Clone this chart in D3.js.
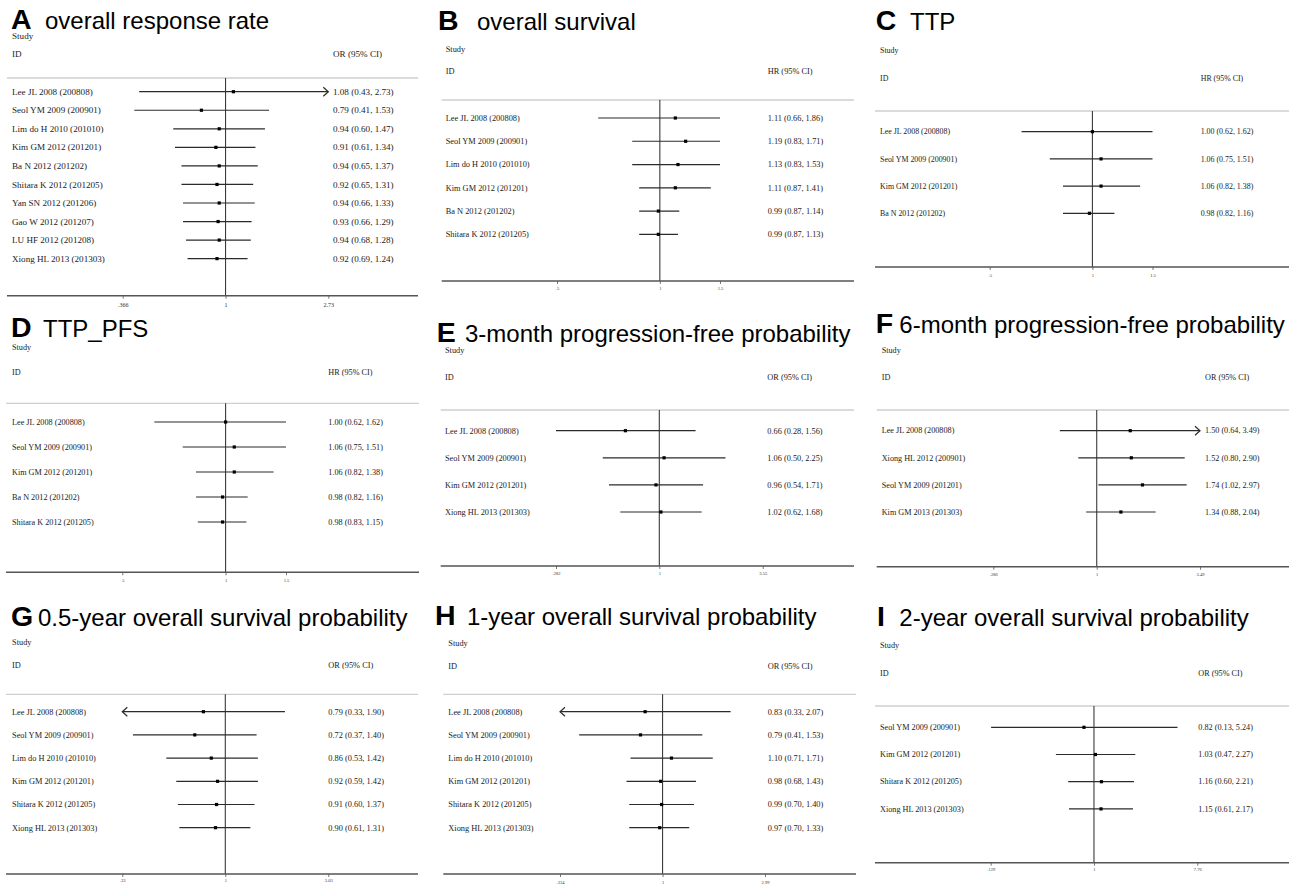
<!DOCTYPE html>
<html>
<head>
<meta charset="utf-8">
<script src="https://cdn.jsdelivr.net/npm/d3@7/dist/d3.min.js"></script>
<style>
  html, body { margin: 0; padding: 0; background: #fff; }
  svg { display: block; }
  .letter { font-family: "Liberation Sans", Arial, sans-serif; font-weight: bold; fill: #000; }
  .title { font-family: "Liberation Sans", Arial, sans-serif; fill: #000; }
  .serif { font-family: "Liberation Serif", "Times New Roman", serif; fill: #222; }
</style>
</head>
<body>
<svg id="fig" width="1289" height="885"></svg>
<script>
// ---- A: overall response rate ----
const studiesA = ["Lee JL 2008 (200808)", "Seol YM 2009 (200901)", "Lim do H 2010 (201010)", "Kim GM 2012 (201201)", "Ba N 2012 (201202)", "Shitara K 2012 (201205)", "Yan SN 2012 (201206)", "Gao W 2012 (201207)", "LU HF 2012 (201208)", "Xiong HL 2013 (201303)"];
const estA = [1.08, 0.79, 0.94, 0.91, 0.94, 0.92, 0.94, 0.93, 0.94, 0.92];
const lowA = [0.43, 0.41, 0.60, 0.61, 0.65, 0.65, 0.66, 0.66, 0.68, 0.69];
const highA = [2.73, 1.53, 1.47, 1.34, 1.37, 1.31, 1.33, 1.29, 1.28, 1.24];
const ticksA = [0.366, 1, 2.73];
const tickTextA = [".366", "1", "2.73"];
const arrowsA = ["right", "", "", "", "", "", "", "", "", ""];

// ---- B: overall survival ----
const studiesB = ["Lee JL 2008 (200808)", "Seol YM 2009 (200901)", "Lim do H 2010 (201010)", "Kim GM 2012 (201201)", "Ba N 2012 (201202)", "Shitara K 2012 (201205)"];
const estB = [1.11, 1.19, 1.13, 1.11, 0.99, 0.99];
const lowB = [0.66, 0.83, 0.83, 0.87, 0.87, 0.87];
const highB = [1.86, 1.71, 1.53, 1.41, 1.14, 1.13];
const ticksB = [0.5, 1, 1.5];
const tickTextB = [".5", "1", "1.5"];
const arrowsB = ["", "", "", "", "", ""];

// ---- C: TTP ----
const studiesC = ["Lee JL 2008 (200808)", "Seol YM 2009 (200901)", "Kim GM 2012 (201201)", "Ba N 2012 (201202)"];
const estC = [1.00, 1.06, 1.06, 0.98];
const lowC = [0.62, 0.75, 0.82, 0.82];
const highC = [1.62, 1.51, 1.38, 1.16];
const ticksC = [0.5, 1, 1.5];
const tickTextC = [".5", "1", "1.5"];
const arrowsC = ["", "", "", ""];

// ---- D: TTP_PFS ----
const studiesD = ["Lee JL 2008 (200808)", "Seol YM 2009 (200901)", "Kim GM 2012 (201201)", "Ba N 2012 (201202)", "Shitara K 2012 (201205)"];
const estD = [1.00, 1.06, 1.06, 0.98, 0.98];
const lowD = [0.62, 0.75, 0.82, 0.82, 0.83];
const highD = [1.62, 1.51, 1.38, 1.16, 1.15];
const ticksD = [0.5, 1, 1.5];
const tickTextD = [".5", "1", "1.5"];
const arrowsD = ["", "", "", "", ""];

// ---- E: 3-month progression-free probability ----
const studiesE = ["Lee JL 2008 (200808)", "Seol YM 2009 (200901)", "Kim GM 2012 (201201)", "Xiong HL 2013 (201303)"];
const estE = [0.66, 1.06, 0.96, 1.02];
const lowE = [0.28, 0.50, 0.54, 0.62];
const highE = [1.56, 2.25, 1.71, 1.68];
const ticksE = [0.282, 1, 3.55];
const tickTextE = [".282", "1", "3.55"];
const arrowsE = ["", "", "", ""];

// ---- F: 6-month progression-free probability ----
const studiesF = ["Lee JL 2008 (200808)", "Xiong HL 2012 (200901)", "Seol YM 2009 (201201)", "Kim GM 2013 (201303)"];
const estF = [1.50, 1.52, 1.74, 1.34];
const lowF = [0.64, 0.80, 1.02, 0.88];
const highF = [3.49, 2.90, 2.97, 2.04];
const ticksF = [0.286, 1, 3.49];
const tickTextF = [".286", "1", "3.49"];
const arrowsF = ["right", "", "", ""];

// ---- G: 0.5-year overall survival probability ----
const studiesG = ["Lee JL 2008 (200808)", "Seol YM 2009 (200901)", "Lim do H 2010 (201010)", "Kim GM 2012 (201201)", "Shitara K 2012 (201205)", "Xiong HL 2013 (201303)"];
const estG = [0.79, 0.72, 0.86, 0.92, 0.91, 0.90];
const lowG = [0.33, 0.37, 0.53, 0.59, 0.60, 0.61];
const highG = [1.90, 1.40, 1.42, 1.42, 1.37, 1.31];
const ticksG = [0.33, 1, 3.03];
const tickTextG = [".33", "1", "3.03"];
const arrowsG = ["left", "", "", "", "", ""];

// ---- H: 1-year overall survival probability ----
const studiesH = ["Lee JL 2008 (200808)", "Seol YM 2009 (200901)", "Lim do H 2010 (201010)", "Kim GM 2012 (201201)", "Shitara K 2012 (201205)", "Xiong HL 2013 (201303)"];
const estH = [0.83, 0.79, 1.10, 0.98, 0.99, 0.97];
const lowH = [0.33, 0.41, 0.71, 0.68, 0.70, 0.70];
const highH = [2.07, 1.53, 1.71, 1.43, 1.40, 1.33];
const ticksH = [0.334, 1, 2.99];
const tickTextH = [".334", "1", "2.99"];
const arrowsH = ["left", "", "", "", "", ""];

// ---- I: 2-year overall survival probability ----
const studiesI = ["Seol YM 2009 (200901)", "Kim GM 2012 (201201)", "Shitara K 2012 (201205)", "Xiong HL 2013 (201303)"];
const estI = [0.82, 1.03, 1.16, 1.15];
const lowI = [0.13, 0.47, 0.60, 0.61];
const highI = [5.24, 2.27, 2.21, 2.17];
const ticksI = [0.129, 1, 7.76];
const tickTextI = [".129", "1", "7.76"];
const arrowsI = ["", "", "", ""];

// Page geometry of each forest panel (absolute pixels)
const layout = {
  A: { letterX: 11,    titleX: 45,    titleY: 29,  textX: 12,    studyY: 38.5,  idY: 57,    valX: 333,    headY: 78,    lineX: [7, 418],      row0: 91.7,  step: 18.55, axisY: 295.7, px: [122.7, 328.3], font: 9.1,  tickFont: 6,   tickY: 307 },
  B: { letterX: 438,   titleX: 477,   titleY: 30,  textX: 445.7, studyY: 51.5,  idY: 74,    valX: 767.7,  headY: 100,   lineX: [441.7, 854],  row0: 118,   step: 23.27, axisY: 281,   px: [557, 720],     font: 8.35, tickFont: 4.5, tickY: 290 },
  C: { letterX: 875.7, titleX: 910,   titleY: 30,  textX: 880,   studyY: 52.5,  idY: 80.5,  valX: 1200.7, headY: 111,   lineX: [875, 1289],   row0: 131.7, step: 27.2,  axisY: 267,   px: [989.7, 1152.5], font: 7.9, tickFont: 4.5, tickY: 277 },
  D: { letterX: 11,    titleX: 43,    titleY: 337, textX: 12,    studyY: 349.5, idY: 375.3, valX: 328.3,  headY: 403.3, lineX: [6, 419],      row0: 422,   step: 25,    axisY: 572.3, px: [122.3, 286],   font: 8.2,  tickFont: 4.5, tickY: 582 },
  E: { letterX: 436.7, titleX: 465,   titleY: 342, textX: 445,   studyY: 353,   idY: 380,   valX: 767.3,  headY: 410,   lineX: [440.7, 854],  row0: 430.7, step: 27.1,  axisY: 566,   px: [556, 762.7],   font: 8.3,  tickFont: 4.5, tickY: 575 },
  F: { letterX: 875.7, titleX: 899.3, titleY: 333, textX: 881.7, studyY: 353,   idY: 380,   valX: 1205,   headY: 410,   lineX: [876.7, 1289], row0: 430.7, step: 27.1,  axisY: 566.7, px: [993.3, 1200],  font: 8.2,  tickFont: 4.5, tickY: 576 },
  G: { letterX: 11,    titleX: 38,    titleY: 626, textX: 12,    studyY: 645,   idY: 668,   valX: 328.3,  headY: 694.3, lineX: [6, 418],      row0: 711.7, step: 23.2,  axisY: 874,   px: [122.3, 328.3], font: 8.35, tickFont: 4.5, tickY: 882 },
  H: { letterX: 435,   titleX: 467,   titleY: 625, textX: 448.3, studyY: 645.5, idY: 668.5, valX: 767.7,  headY: 694.3, lineX: [443.3, 856],  row0: 711.7, step: 23.2,  axisY: 874,   px: [560, 765],     font: 8.35, tickFont: 4.5, tickY: 884 },
  I: { letterX: 877,   titleX: 899.3, titleY: 626, textX: 880,   studyY: 648,   idY: 675.5, valX: 1198.3, headY: 706,   lineX: [875, 1289],   row0: 727.3, step: 27.2,  axisY: 862.7, px: [990.7, 1197.3], font: 8.2, tickFont: 4.5, tickY: 871 }
};

const panels = [
  { key: "A", title: "overall response rate", measure: "OR (95% CI)", studies: studiesA, est: estA, low: lowA, high: highA, ticks: ticksA, tickText: tickTextA, arrows: arrowsA },
  { key: "B", title: "overall survival", measure: "HR (95% CI)", studies: studiesB, est: estB, low: lowB, high: highB, ticks: ticksB, tickText: tickTextB, arrows: arrowsB },
  { key: "C", title: "TTP", measure: "HR (95% CI)", studies: studiesC, est: estC, low: lowC, high: highC, ticks: ticksC, tickText: tickTextC, arrows: arrowsC },
  { key: "D", title: "TTP_PFS", measure: "HR (95% CI)", studies: studiesD, est: estD, low: lowD, high: highD, ticks: ticksD, tickText: tickTextD, arrows: arrowsD },
  { key: "E", title: "3-month progression-free probability", measure: "OR (95% CI)", studies: studiesE, est: estE, low: lowE, high: highE, ticks: ticksE, tickText: tickTextE, arrows: arrowsE },
  { key: "F", title: "6-month progression-free probability", measure: "OR (95% CI)", studies: studiesF, est: estF, low: lowF, high: highF, ticks: ticksF, tickText: tickTextF, arrows: arrowsF },
  { key: "G", title: "0.5-year overall survival probability", measure: "OR (95% CI)", studies: studiesG, est: estG, low: lowG, high: highG, ticks: ticksG, tickText: tickTextG, arrows: arrowsG },
  { key: "H", title: "1-year overall survival probability", measure: "OR (95% CI)", studies: studiesH, est: estH, low: lowH, high: highH, ticks: ticksH, tickText: tickTextH, arrows: arrowsH },
  { key: "I", title: "2-year overall survival probability", measure: "OR (95% CI)", studies: studiesI, est: estI, low: lowI, high: highI, ticks: ticksI, tickText: tickTextI, arrows: arrowsI }
];

const svg = d3.select("#fig");
const fmt = d3.format(".2f");

panels.forEach(p => {
  const L = layout[p.key];
  const g = svg.append("g").attr("class", "panel-" + p.key);
  const n = p.studies.length;
  const dom = [p.ticks[0], p.ticks[p.ticks.length - 1]];
  const x = d3.scaleLog().domain(dom).range(L.px);
  const y = d3.scaleLinear().domain([0, n - 1]).range([L.row0, L.row0 + (n - 1) * L.step]);

  // panel letter and title
  g.append("text").attr("class", "letter").attr("x", L.letterX).attr("y", L.titleY)
    .attr("font-size", 28.5).text(p.key);
  g.append("text").attr("class", "title").attr("x", L.titleX).attr("y", L.titleY)
    .attr("font-size", 24).text(p.title);

  // column headers
  g.append("text").attr("class", "serif").attr("x", L.textX).attr("y", L.studyY)
    .attr("font-size", L.font).text("Study");
  g.append("text").attr("class", "serif").attr("x", L.textX).attr("y", L.idY)
    .attr("font-size", L.font).text("ID");
  g.append("text").attr("class", "serif").attr("x", L.valX).attr("y", L.idY)
    .attr("font-size", L.font).text(p.measure);

  // header rule
  g.append("line").attr("x1", L.lineX[0]).attr("x2", L.lineX[1])
    .attr("y1", L.headY).attr("y2", L.headY)
    .attr("stroke", "#cfcfcf").attr("stroke-width", 1.3);

  // reference line at 1
  g.append("line").attr("x1", x(1)).attr("x2", x(1))
    .attr("y1", L.headY).attr("y2", L.axisY)
    .attr("stroke", "#3a3a3a").attr("stroke-width", 1.1);

  // bottom axis
  g.append("line").attr("x1", L.lineX[0]).attr("x2", L.lineX[1])
    .attr("y1", L.axisY).attr("y2", L.axisY)
    .attr("stroke", "#555").attr("stroke-width", 1.4);
  const axis = d3.axisBottom(x).tickValues(p.ticks)
    .tickFormat((d, i) => p.tickText[i]).tickSize(3).tickPadding(1);
  const ax = g.append("g").attr("transform", `translate(0,${L.axisY})`).call(axis);
  ax.select(".domain").remove();
  ax.selectAll(".tick line").attr("stroke", "#555").attr("stroke-width", 0.8);
  ax.selectAll(".tick text")
    .attr("font-family", "'Liberation Serif', 'Times New Roman', serif")
    .attr("font-size", L.tickFont).attr("fill", "#333")
    .attr("y", null).attr("dy", null)
    .attr("transform", `translate(0,${L.tickY - L.axisY})`);

  const rows = p.studies.map((s, i) => ({ s, i, est: p.est[i], low: p.low[i], high: p.high[i], arrow: p.arrows[i] }));
  const clamp = v => Math.max(dom[0], Math.min(dom[1], v));

  // study labels and effect text
  g.selectAll("text.study").data(rows).enter().append("text")
    .attr("class", "serif study").attr("x", L.textX)
    .attr("y", d => y(d.i) + L.font * 0.34).attr("font-size", L.font).text(d => d.s);
  g.selectAll("text.val").data(rows).enter().append("text")
    .attr("class", "serif val").attr("x", L.valX)
    .attr("y", d => y(d.i) + L.font * 0.34).attr("font-size", L.font)
    .text(d => `${fmt(d.est)} (${fmt(d.low)}, ${fmt(d.high)})`);

  // confidence intervals
  g.selectAll("line.ci").data(rows).enter().append("line")
    .attr("class", "ci")
    .attr("x1", d => x(clamp(d.low))).attr("x2", d => x(clamp(d.high)))
    .attr("y1", d => y(d.i)).attr("y2", d => y(d.i))
    .attr("stroke", "#2b2b2b").attr("stroke-width", 1.2);

  // open arrowheads where an interval runs to the axis limit
  g.selectAll("path.arrow").data(rows.filter(d => d.arrow)).enter().append("path")
    .attr("class", "arrow")
    .attr("d", d => {
      const tip = d.arrow === "right" ? x(clamp(d.high)) : x(clamp(d.low));
      const dir = d.arrow === "right" ? -1 : 1;
      const yy = y(d.i);
      return `M${tip + dir * 5},${yy - 4.5}L${tip},${yy}L${tip + dir * 5},${yy + 4.5}`;
    })
    .attr("fill", "none").attr("stroke", "#2b2b2b").attr("stroke-width", 1.2);

  // point estimates
  g.selectAll("rect.pt").data(rows).enter().append("rect")
    .attr("class", "pt")
    .attr("x", d => x(d.est) - 1.6).attr("y", d => y(d.i) - 1.6)
    .attr("width", 3.2).attr("height", 3.2).attr("fill", "#000");
});
</script>
</body>
</html>
